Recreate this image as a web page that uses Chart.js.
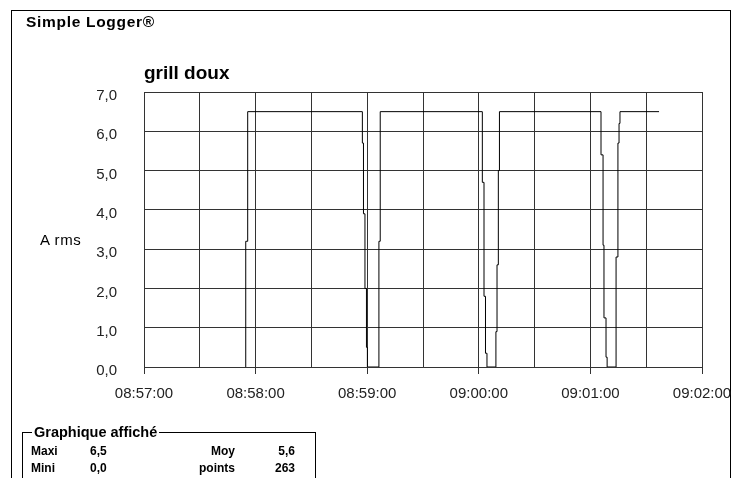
<!DOCTYPE html>
<html>
<head>
<meta charset="utf-8">
<script src="https://cdn.jsdelivr.net/npm/chart.js@4.4.1/dist/chart.umd.min.js"></script>
<style>
  body { margin: 0; width: 740px; height: 478px; overflow: hidden; background: #fff; font-family: "Liberation Sans", Arial, sans-serif; color: #000; }
  #frame { position: absolute; left: 11px; top: 10px; width: 718px; height: 500px; border: 1px solid #000; }
  #myChart { position: absolute; left: 0; top: 0; }
  .txt { position: absolute; white-space: nowrap; }
  #logger { left: 26px; top: 13px; font-weight: bold; font-size: 15.5px; letter-spacing: 0.7px; }
  #title { left: 144px; top: 62px; font-weight: bold; font-size: 19px; }
  #ylabel { left: 40px; top: 231px; font-size: 15px; letter-spacing: 0.6px; }
  #box { position: absolute; left: 22px; top: 432px; width: 292px; height: 80px; border: 1px solid #000; }
  #boxTitle { left: 32px; top: 424px; font-weight: bold; font-size: 14.5px; background: #fff; padding: 0 2px; }
  .row { font-weight: bold; font-size: 12px; }
  .r { text-align: right; }
</style>
</head>
<body>
<div id="frame"></div>
<canvas id="myChart" width="740" height="478"></canvas>
<div class="txt" id="logger">Simple Logger®</div>
<div class="txt" id="title">grill doux</div>
<div class="txt" id="ylabel">A rms</div>
<div id="box"></div>
<div class="txt" id="boxTitle">Graphique affiché</div>
<div class="txt row" style="left:31px;top:444px">Maxi</div>
<div class="txt row" style="left:90px;top:444px">6,5</div>
<div class="txt row r" style="left:180px;top:444px;width:55px">Moy</div>
<div class="txt row r" style="left:250px;top:444px;width:45px">5,6</div>
<div class="txt row" style="left:31px;top:461px">Mini</div>
<div class="txt row" style="left:90px;top:461px">0,0</div>
<div class="txt row r" style="left:180px;top:461px;width:55px">points</div>
<div class="txt row r" style="left:250px;top:461px;width:45px">263</div>

<script>
// seconds after 08:57:00
var startHour = 8, startMin = 57;
var seconds = [54.7, 54.7, 55.75, 117.4, 118.0, 118.8, 119.6, 120.1, 126.3, 127.0,
               181.9, 182.8, 183.6, 184.4, 189.2, 189.8, 190.5, 191.1,
               245.7, 246.8, 247.3, 248.4, 249.0, 253.8, 254.8, 255.4, 255.9, 276.9];
var amps = [0, 3.2, 6.5, 5.7, 3.9, 2.0, 0.5, 0, 3.2, 6.5,
            4.7, 1.8, 0.35, 0, 0.9, 2.6, 5.0, 6.5,
            5.4, 3.1, 1.25, 0.25, 0, 2.8, 5.7, 6.2, 6.5, 6.5];
var xMin = 0, xMax = 300, xStep = 30;
var yMin = 0, yMax = 7, yStep = 1;

function pad(n) { return (n < 10 ? '0' : '') + n; }
function timeLabel(s) {
  var total = startHour * 3600 + startMin * 60 + s;
  var h = Math.floor(total / 3600), m = Math.floor(total / 60) % 60, sec = Math.round(total % 60);
  return pad(h) + ':' + pad(m) + ':' + pad(sec);
}

var points = seconds.map(function (s, i) { return { x: s, y: amps[i] }; });
var gridColor = '#333';

var ctx = document.getElementById("myChart").getContext('2d');
var myChart = new Chart(ctx, {
  type: 'line',
  data: {
    datasets: [{
      label: 'A rms',
      data: points,
      borderColor: '#000',
      borderWidth: 1,
      pointRadius: 0,
      stepped: true,
      tension: 0,
      fill: false
    }]
  },
  options: {
    responsive: false,
    animation: false,
    devicePixelRatio: 1,
    layout: { padding: { left: 84, right: 38, top: 92, bottom: 71 } },
    plugins: { legend: { display: false }, tooltip: { enabled: false } },
    scales: {
      x: {
        type: 'linear',
        min: xMin, max: xMax,
        afterFit: function (axis) {
          axis.height = 40;
          axis.paddingLeft = 0;
          axis.paddingRight = 0;
        },
        border: { color: gridColor, width: 1 },
        grid: {
          color: gridColor, lineWidth: 1, tickLength: 7,
          tickColor: function (c) { return c.tick && c.tick.value % 60 === 0 ? gridColor : 'rgba(0,0,0,0)'; }
        },
        ticks: {
          stepSize: xStep, autoSkip: false, maxRotation: 0, padding: 11,
          color: '#222', font: { family: 'Liberation Sans', size: 15 },
          callback: function (v) { return v % 60 === 0 ? timeLabel(v) : ''; }
        }
      },
      y: {
        min: yMin, max: yMax,
        afterFit: function (axis) {
          axis.width = 60;
          axis.paddingTop = 0;
          axis.paddingBottom = 0;
        },
        border: { color: gridColor, width: 1 },
        grid: { color: gridColor, lineWidth: 1, drawTicks: false },
        ticks: {
          stepSize: yStep, padding: 27, labelOffset: 4,
          color: '#222', font: { family: 'Liberation Sans', size: 15 },
          callback: function (v) { return v.toFixed(1).replace('.', ','); }
        }
      }
    }
  }
});
</script>
</body>
</html>
